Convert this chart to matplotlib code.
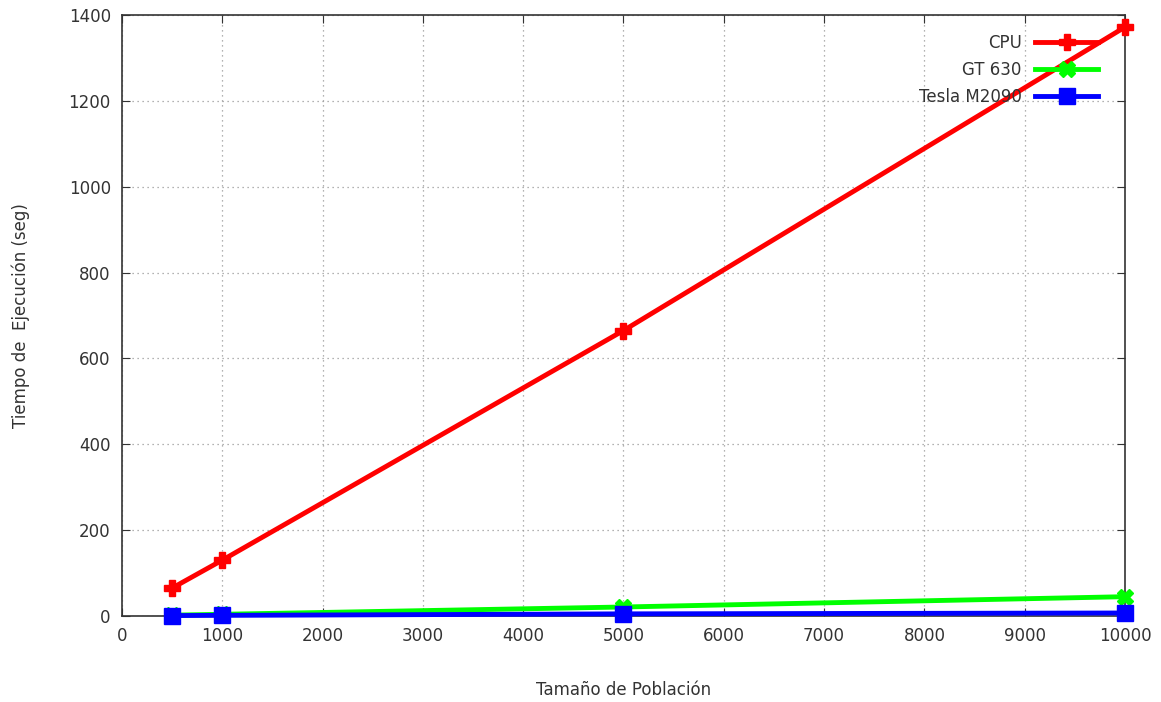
import numpy as np
from matplotlib import pyplot as plt

poblacion = [500, 1000, 5000, 10000]
cpu = [65, 130, 665, 1372]
gt630 = [2, 4, 21, 45]
tesla = [1, 1.5, 5, 7]
series_labels = ["CPU", "GT 630", "Tesla M2090"]


def main():
    plt.rcParams['font.family'] = ['DejaVu Sans']
    fig = plt.figure(figsize=(11.61, 7.02), dpi=100)
    ax = fig.add_axes([0.105, 0.1225, 0.864, 0.8561])

    ax.plot(poblacion, cpu, color="#ff0000", lw=3.5, marker="P", ms=12,
            label=series_labels[0], clip_on=False, zorder=5)
    ax.plot(poblacion, gt630, color="#00ff00", lw=3.5, marker="X", ms=12,
            label=series_labels[1], clip_on=False, zorder=4)
    ax.plot(poblacion, tesla, color="#0000ff", lw=3.5, marker="s", ms=11,
            label=series_labels[2], clip_on=False, zorder=4)

    ax.set_xlim(0, 10000)
    ax.set_ylim(0, 1400)
    ax.set_xticks(np.arange(0, 10001, 1000))
    ax.set_yticks(np.arange(0, 1401, 200))
    ax.grid(True, linestyle=(0, (1, 3)), color="#999999", lw=0.9)
    ax.tick_params(direction="in", top=True, right=True, length=6,
                   labelsize=12, colors="#333333", pad=8)
    for s in ax.spines.values():
        s.set_color("#333333")
        s.set_linewidth(1.2)

    ax.set_xlabel("Tamaño de Población", fontsize=12, color="#333333",
                  labelpad=26)
    ax.set_ylabel("Tiempo de  Ejecución (seg)", fontsize=12, color="#333333",
                  labelpad=28)

    leg = ax.legend(loc="upper right", bbox_to_anchor=(0.985, 0.988),
                    frameon=False, markerfirst=False,
                    fontsize=12, handlelength=3.8, borderaxespad=0.3,
                    labelspacing=0.55)
    for t in leg.get_texts():
        t.set_color("#333333")

    fig.savefig("out.png", dpi=100)


if __name__ == "__main__":
    main()
